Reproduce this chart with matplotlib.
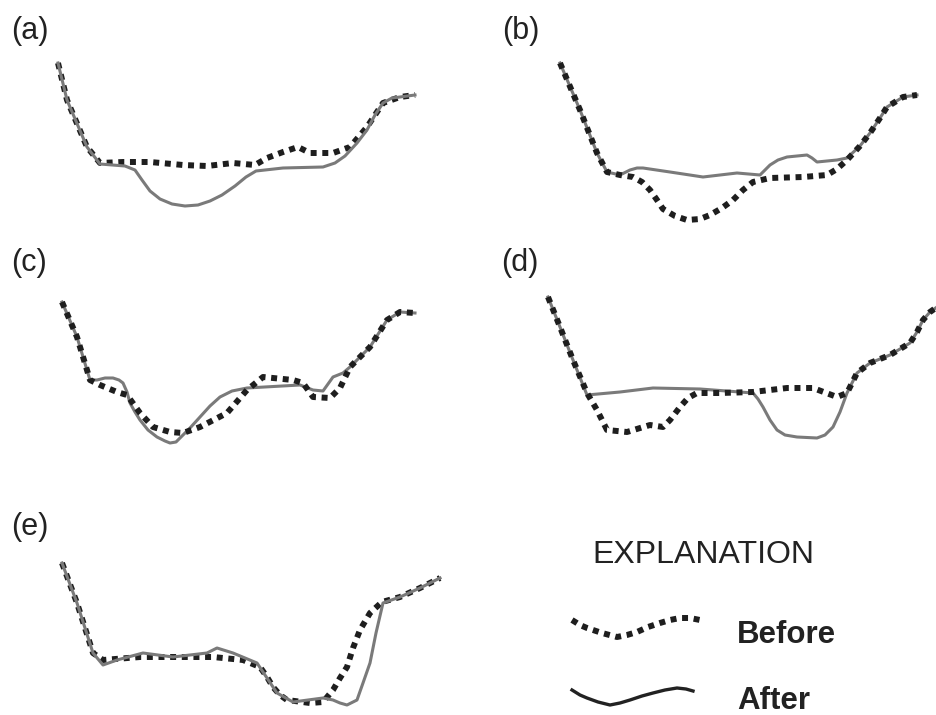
import matplotlib
matplotlib.use('Agg')
import matplotlib.pyplot as plt

plt.rcParams['font.family'] = ['Liberation Sans', 'DejaVu Sans']

# profile traces for each panel (local units, y grows downward = depth)
a_before_x = [58, 67, 87, 100, 123, 150, 183, 207, 233, 255, 267, 283, 298, 310, 333, 350, 367, 383, 400, 415]
a_before_y = [63, 100, 147, 163, 162, 162, 165, 166, 163, 165, 158, 152, 147, 153, 153, 147, 127, 103, 97, 95]
a_after_x = [58, 67, 87, 100, 125, 135, 142, 150, 160, 172, 185, 198, 210, 222, 235, 246, 256, 283, 323, 335, 345, 357, 367, 375, 383, 392, 400, 415]
a_after_y = [63, 100, 147, 164, 166, 170, 180, 191, 199, 204, 206, 205, 201, 195, 186, 177, 171, 168, 167, 163, 156, 143, 130, 115, 103, 98, 97, 95]

b_before_x = [90, 110, 127, 137, 150, 163, 172, 180, 187, 193, 205, 217, 230, 240, 252, 263, 273, 283, 300, 333, 357, 367, 377, 390, 400, 410, 417, 433, 447]
b_before_y = [63, 110, 153, 172, 175, 177, 182, 190, 200, 209, 216, 220, 219, 215, 208, 200, 190, 182, 178, 177, 175, 169, 160, 146, 133, 118, 107, 97, 95]
b_after_x = [90, 110, 127, 137, 150, 160, 167, 173, 200, 233, 267, 290, 295, 300, 308, 317, 327, 337, 342, 347, 367, 377, 390, 400, 410, 417, 433, 447]
b_after_y = [63, 110, 153, 172, 175, 170, 168, 168, 172, 177, 173, 175, 170, 165, 160, 157, 156, 155, 158, 162, 160, 158, 146, 133, 118, 107, 97, 95]

c_before_x = [62, 77, 90, 100, 117, 127, 140, 153, 170, 183, 200, 227, 247, 263, 293, 303, 313, 330, 340, 350, 370, 387, 400, 415]
c_before_y = [62, 97, 140, 145, 152, 155, 173, 187, 192, 193, 187, 173, 150, 137, 140, 143, 157, 158, 148, 127, 107, 80, 72, 73]
c_after_x = [62, 77, 90, 97, 105, 113, 119, 123, 127, 130, 135, 140, 148, 157, 165, 170, 176, 180, 190, 200, 210, 220, 232, 247, 300, 313, 323, 333, 343, 350, 370, 387, 400, 415]
c_after_y = [62, 97, 140, 140, 138, 138, 140, 143, 152, 163, 172, 180, 190, 197, 201, 203, 202, 198, 188, 177, 166, 157, 151, 148, 145, 150, 151, 137, 133, 127, 107, 80, 72, 73]

d_before_x = [78, 90, 103, 117, 127, 137, 157, 180, 193, 200, 210, 218, 227, 250, 283, 317, 343, 367, 377, 387, 400, 420, 440, 447, 453, 460, 467]
d_before_y = [57, 87, 120, 153, 170, 190, 192, 185, 187, 180, 167, 158, 153, 153, 152, 148, 148, 157, 153, 133, 123, 115, 103, 92, 80, 72, 67]
d_after_x = [78, 90, 103, 117, 150, 183, 230, 283, 288, 293, 300, 307, 315, 327, 347, 355, 363, 370, 377, 387, 400, 420, 440, 447, 453, 460, 467]
d_after_y = [57, 87, 120, 155, 152, 148, 149, 153, 159, 167, 180, 190, 195, 197, 198, 195, 187, 172, 153, 133, 123, 115, 103, 92, 80, 72, 67]

e_before_x = [62, 77, 93, 103, 140, 183, 213, 243, 260, 267, 273, 280, 287, 310, 323, 333, 340, 347, 353, 360, 370, 382, 400, 420, 440]
e_before_y = [93, 133, 183, 190, 187, 187, 187, 190, 197, 207, 217, 225, 230, 233, 232, 220, 208, 197, 178, 160, 143, 132, 127, 118, 108]
e_after_x = [62, 77, 93, 103, 117, 143, 173, 207, 217, 233, 257, 267, 277, 293, 323, 333, 340, 347, 357, 363, 370, 376, 383, 400, 420, 440]
e_after_y = [93, 133, 183, 195, 190, 183, 187, 183, 178, 183, 193, 208, 223, 232, 228, 230, 233, 235, 230, 213, 193, 163, 133, 127, 118, 108]

# legend sample squiggles
leg_before_x = [52, 60, 67, 82, 97, 107, 117, 128, 140, 150, 160, 170, 180]
leg_before_y = [120, 125, 128, 133, 137, 135, 132, 127, 123, 120, 118, 118, 120]
leg_after_x = [52, 60, 67, 78, 90, 100, 110, 122, 133, 145, 157, 166, 173]
leg_after_y = [190, 195, 198, 202, 205, 203, 200, 196, 193, 190, 188, 189, 191]

W, H = 937, 715
BEFORE_C = '#1e1e1e'
AFTER_C = '#7a7a7a'

fig = plt.figure(figsize=(W / 100, H / 100), dpi=100)
fig.patch.set_facecolor('white')


def panel(left, top, w, h):
    ax = fig.add_axes([left / W, 1 - (top + h) / H, w / W, h / H])
    ax.set_xlim(0, w)
    ax.set_ylim(h, 0)
    ax.axis('off')
    return ax


def draw_before(ax, x, y, z):
    ax.plot(x, y, color=BEFORE_C, lw=4.3, ls=(0, (1.0, 0.95)),
            solid_capstyle='butt', dash_capstyle='butt', zorder=z)


def draw_after(ax, x, y, z):
    ax.plot(x, y, color=AFTER_C, lw=2.2, solid_joinstyle='round', zorder=z)


panels = [
    ('(a)', 0, 0, 240, a_before_x, a_before_y, a_after_x, a_after_y, True),
    ('(b)', 470, 0, 240, b_before_x, b_before_y, b_after_x, b_after_y, False),
    ('(c)', 0, 240, 230, c_before_x, c_before_y, c_after_x, c_after_y, False),
    ('(d)', 470, 240, 230, d_before_x, d_before_y, d_after_x, d_after_y, False),
    ('(e)', 0, 470, 245, e_before_x, e_before_y, e_after_x, e_after_y, True),
]
label_pos = {'(a)': (11, 31), '(b)': (32, 31), '(c)': (11, 23), '(d)': (31, 23), '(e)': (11, 57)}

for lab, left, top, h, bx, by, ax_, ay, after_on_top in panels:
    ax = panel(left, top, 470 if left == 0 else 467, h)
    if after_on_top:
        draw_before(ax, bx, by, 2)
        draw_after(ax, ax_, ay, 3)
    else:
        draw_after(ax, ax_, ay, 2)
        draw_before(ax, bx, by, 3)
    lx, ly = label_pos[lab]
    ax.text(lx, ly, lab, fontsize=22, color='#222222', ha='left', va='center')

# explanation box
lg = panel(520, 500, 417, 215)
draw_before(lg, leg_before_x, leg_before_y, 3)
lg.plot(leg_after_x, leg_after_y, color='#222222', lw=2.4, zorder=3)
lg.text(72, 63, 'EXPLANATION', fontsize=23, color='#222222', ha='left', va='baseline')
lg.text(217, 143, 'Before', fontsize=22.5, fontweight='bold', color='#222222', ha='left', va='baseline')
lg.text(217, 209, 'After', fontsize=22.5, fontweight='bold', color='#222222', ha='left', va='baseline')

fig.savefig('out.png', dpi=100, facecolor='white')
